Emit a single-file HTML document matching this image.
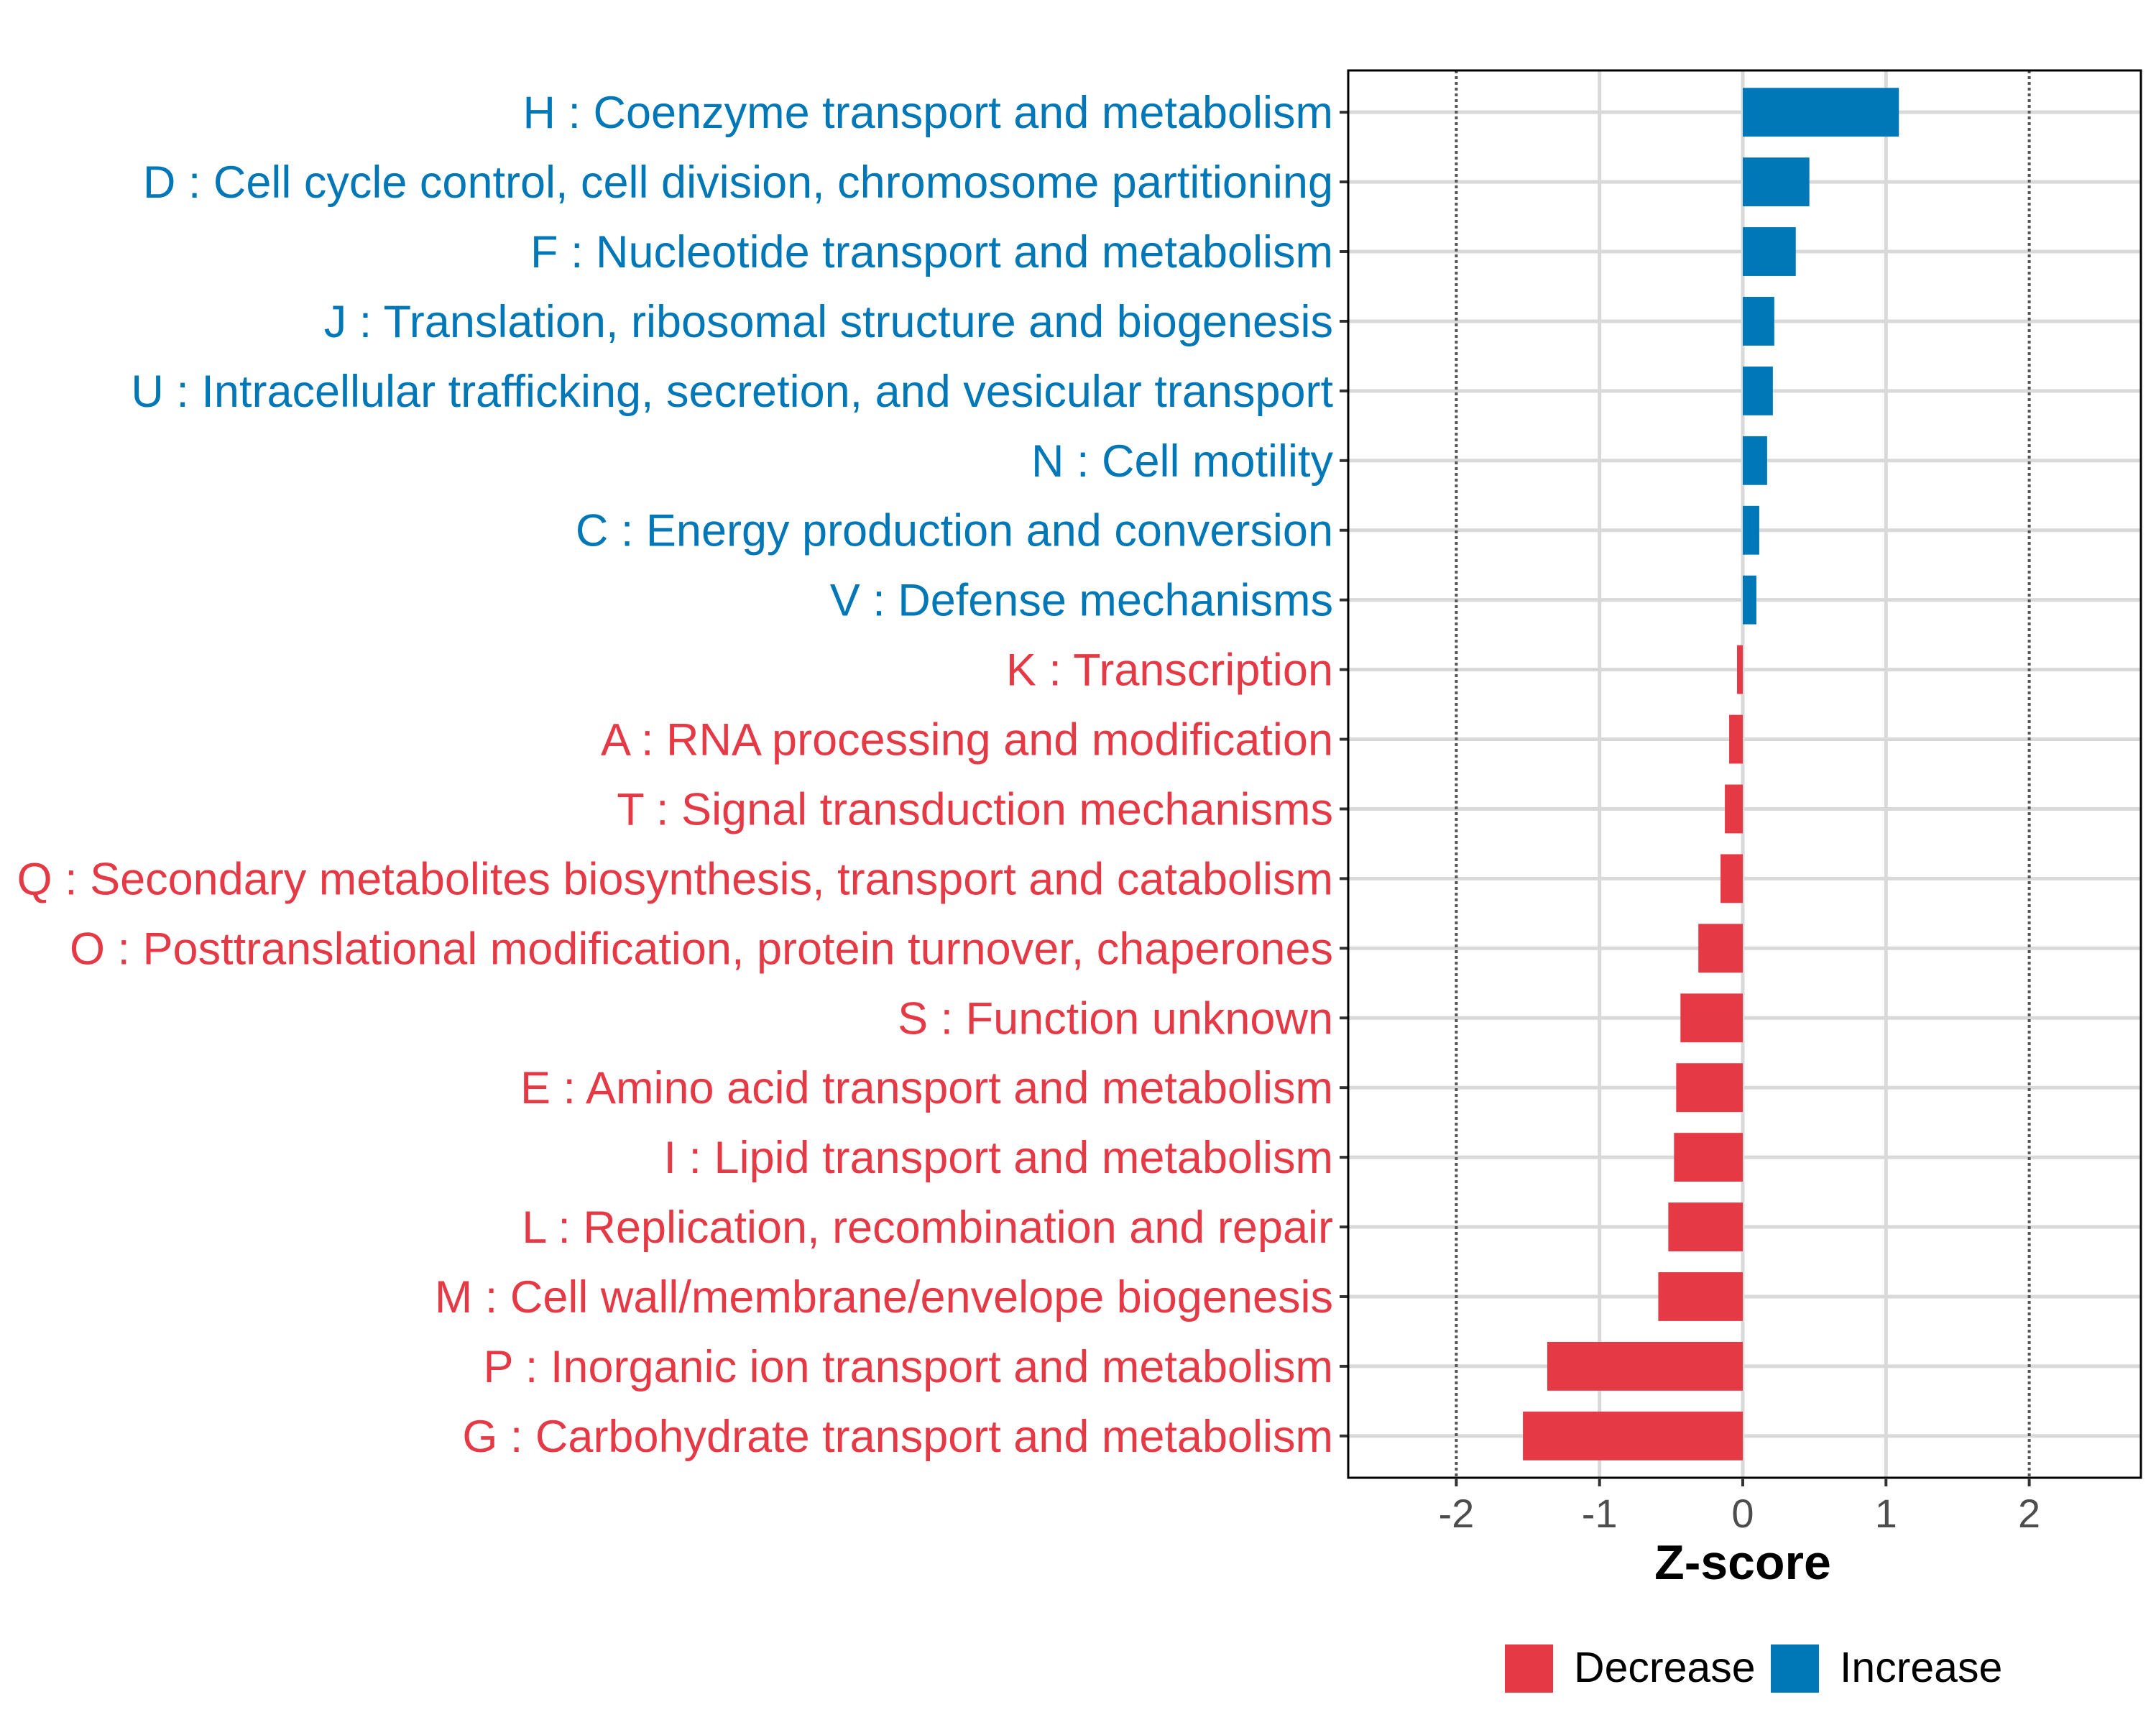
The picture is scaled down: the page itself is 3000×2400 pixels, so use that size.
<!DOCTYPE html>
<html><head><meta charset="utf-8"><style>
html,body{margin:0;padding:0;background:#fff;}
svg{display:block;font-family:"Liberation Sans",sans-serif;}
</style></head><body>
<svg id="chart" width="3000" height="2400" viewBox="0 0 3000 2400" xmlns="http://www.w3.org/2000/svg">
<g id="grid"></g>
<g id="bars"></g>
<g id="ylabels"></g>
<g id="xaxis"></g>
<text x="2425" y="2197" font-size="68" font-weight="bold" text-anchor="middle">Z-score</text>
<g>
<rect x="2094" y="2288" width="67" height="67" fill="#e63946"/>
<text x="2190" y="2340" font-size="59">Decrease</text>
<rect x="2464" y="2288" width="67" height="67" fill="#0077b6"/>
<text x="2560" y="2340" font-size="59">Increase</text>
</g>
</svg>
<script>
const categories=["H : Coenzyme transport and metabolism","D : Cell cycle control, cell division, chromosome partitioning","F : Nucleotide transport and metabolism","J : Translation, ribosomal structure and biogenesis","U : Intracellular trafficking, secretion, and vesicular transport","N : Cell motility","C : Energy production and conversion","V : Defense mechanisms","K : Transcription","A : RNA processing and modification","T : Signal transduction mechanisms","Q : Secondary metabolites biosynthesis, transport and catabolism","O : Posttranslational modification, protein turnover, chaperones","S : Function unknown","E : Amino acid transport and metabolism","I : Lipid transport and metabolism","L : Replication, recombination and repair","M : Cell wall/membrane/envelope biogenesis","P : Inorganic ion transport and metabolism","G : Carbohydrate transport and metabolism"];
const zscores=[1.09,0.465,0.37,0.22,0.21,0.17,0.115,0.095,-0.04,-0.095,-0.125,-0.155,-0.31,-0.435,-0.465,-0.48,-0.52,-0.59,-1.365,-1.535];
const xTicks=[-2,-1,0,1,2];
const xTickLabels=["-2","-1","0","1","2"];
const thresholds=[-2,2];

const NS="http://www.w3.org/2000/svg";
const PL=1876,PR=2979,PT=98,PB=2056;
const X0=2425,UNIT=199.3;
const n=categories.length;
function xs(v){return X0+v*UNIT;}
function ys(i){return PT+(PB-PT)*(0.6+i)/(n+0.2);}
const bandH=(PB-PT)/(n+0.2);
function mk(tag,attrs,parent){const e=document.createElementNS(NS,tag);for(const k in attrs)e.setAttribute(k,attrs[k]);parent.appendChild(e);return e;}
const grid=document.getElementById('grid'),bars=document.getElementById('bars'),yl=document.getElementById('ylabels'),xa=document.getElementById('xaxis');
for(let t=0;t<xTicks.length;t++){
  if(thresholds.includes(xTicks[t]))continue;
  const l=mk('line',{x1:xs(xTicks[t]),x2:xs(xTicks[t]),y1:PT,y2:PB,stroke:'#d9d9d9','stroke-width':5},grid);
  
  
}
for(let i=0;i<n;i++){
  const l=mk('line',{x1:PL,x2:PR,y1:ys(i),y2:ys(i),stroke:'#d9d9d9','stroke-width':5},grid);
  
  
}
for(const th of thresholds){
  const l=mk('line',{x1:xs(th),x2:xs(th),y1:PT,y2:PB,stroke:'#555','stroke-width':4,'stroke-dasharray':'4 4'},grid);
  
  
}
for(let i=0;i<n;i++){
  const v=zscores[i];const col=v>=0?'#0077b6':'#e63946';
  const bh=bandH*0.7;
  const r=mk('rect',{x:Math.min(xs(0),xs(v)),y:ys(i)-bh/2,width:Math.abs(xs(v)-xs(0)),height:bh,fill:col},bars);
  
  
  const t=mk('text',{x:1855,y:ys(i)+22,'font-size':63,'text-anchor':'end',fill:col},yl);
  t.textContent=categories[i];
  
  
  const tk=mk('line',{x1:1864,x2:PL,y1:ys(i),y2:ys(i),stroke:'#333','stroke-width':4},yl);
  
  
}
const fr=mk('rect',{x:PL,y:PT,width:PR-PL,height:PB-PT,fill:'none',stroke:'#000','stroke-width':3},xa);


for(let t=0;t<xTicks.length;t++){
  const tk=mk('line',{x1:xs(xTicks[t]),x2:xs(xTicks[t]),y1:PB,y2:PB+12,stroke:'#333','stroke-width':4},xa);
  
  
  const lb=mk('text',{x:xs(xTicks[t]),y:2125,'font-size':56,'text-anchor':'middle',fill:'#4d4d4d'},xa);
  lb.textContent=xTickLabels[t];
  
  
}
</script>
</body></html>
